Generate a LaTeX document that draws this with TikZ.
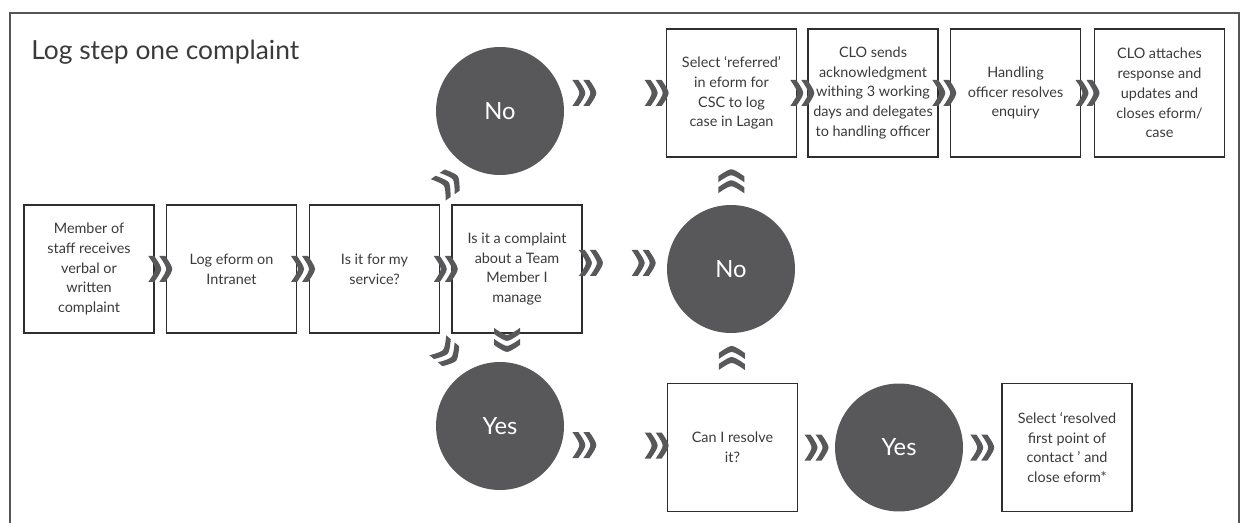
\documentclass[tikz,border=0pt]{standalone}
\usepackage{fontspec}
\setsansfont{Lato}
\usepackage{tikz}
\usetikzlibrary{calc}
\definecolor{framegray}{HTML}{555557}
\definecolor{discgray}{HTML}{58585A}
\definecolor{boxline}{HTML}{2E2E2E}
\definecolor{inkgray}{HTML}{3A3A3A}

\tikzset{
  chev/.pic={
    \foreach \s in {-12,-1}
      \fill[discgray] (\s,-13) -- (\s+6,-13) .. controls (\s+11,-6) and (\s+13,-2) .. (\s+13,0)
        .. controls (\s+13,2) and (\s+11,6) .. (\s+6,13) -- (\s,13)
        .. controls (\s+5,6) and (\s+7,2) .. (\s+7,0) .. controls (\s+7,-2) and (\s+5,-6) .. (\s,-13) -- cycle;
  }
}

\begin{document}
\begin{tikzpicture}[
  x=0.02cm, y=-0.02cm,
  stepbox/.style={draw=boxline, line width=1pt, minimum width=2.6cm, minimum height=2.56cm, inner sep=1pt, align=center, text=inkgray, font=\sffamily\fontsize{8.2}{11.3}\selectfont},
  decision/.style={circle, fill=discgray, minimum size=2.56cm, inner sep=0pt, text=white, font=\sffamily\fontsize{13.5}{16}\selectfont}
]
  \useasboundingbox (0,0) rectangle (1243,523);
  \draw[framegray, line width=1.1pt] (10,523) -- (10,13) -- (1239,13) -- (1239,523);
  \node[anchor=base west, inner sep=0pt, text=inkgray, font=\sffamily\fontsize{15}{18}\selectfont] (title) at (31,60) {Log step one complaint};

  \node[stepbox] (staff) at (89,269) {Member of\\staff receives\\verbal or\\written\\complaint};
  \node[stepbox] (eform) at (231.5,269) {Log eform on\\Intranet};
  \node[stepbox] (service) at (374.5,269) {Is it for my\\service?};
  \node[stepbox] (team) at (517,269) {Is it a complaint\\about a Team\\Member I\\manage};
  \node[decision] (nomid) at (731,269) {No};
  \node[decision] (notop) at (500,111) {No};
  \node[decision] (yesbot) at (500,426) {Yes};

  \node[stepbox] (referred) at (731.5,93) {Select ‘referred’\\in eform for\\CSC to log\\case in Lagan};
  \node[stepbox] (clo) at (873,93) {CLO sends\\acknowledgment\\withing 3 working\\days and delegates\\to handling officer};
  \node[stepbox] (handling) at (1015.5,93) {Handling\\officer resolves\\enquiry};
  \node[stepbox] (attach) at (1159.5,93) {CLO attaches\\response and\\updates and\\closes eform/\\case};

  \node[stepbox] (resolve) at (732.5,447.5) {Can I resolve\\it?};
  \node[decision] (yesres) at (899,447.5) {Yes};
  \node[stepbox] (firstpoint) at (1067,447.5) {Select ‘resolved\\first point of\\contact ’ and\\close eform*};

  \pic at ($(staff.east)!0.5!(eform.west)$) {chev};
  \pic at ($(eform.east)!0.5!(service.west)$) {chev};
  \pic at ($(service.east)!0.5!(team.west)$) {chev};
  \pic at ($(team.east)+(8,-6)$) {chev};
  \pic at ($(nomid.west)+(-23,-6)$) {chev};

  \pic at ($(notop.east)+(20,-18)$) {chev};
  \pic at ($(referred.west)+(-9,0)$) {chev};
  \pic at ($(referred.east)!0.5!(clo.west)$) {chev};
  \pic at ($(clo.east)!0.5!(handling.west)$) {chev};
  \pic at ($(handling.east)!0.5!(attach.west)$) {chev};

  \pic at ($(yesbot.east)+(20,19)$) {chev};
  \pic at ($(resolve.west)+(-10,-2)$) {chev};
  \pic at ($(resolve.east)!0.5!(yesres.west)$) {chev};
  \pic at ($(yesres.east)!0.5!(firstpoint.west)$) {chev};

  \pic[rotate=90] at ($(nomid.north)!0.5!(referred.south)$) {chev};
  \pic[rotate=90] at ($(resolve.north)!0.5!(nomid.south)$) {chev};
  \pic[rotate=-90] at ($(team.south)+(-10,6)$) {chev};
  \pic[rotate=35] at (448,183) {chev};
  \pic[rotate=-40] at (447,353) {chev};
\end{tikzpicture}
\end{document}
